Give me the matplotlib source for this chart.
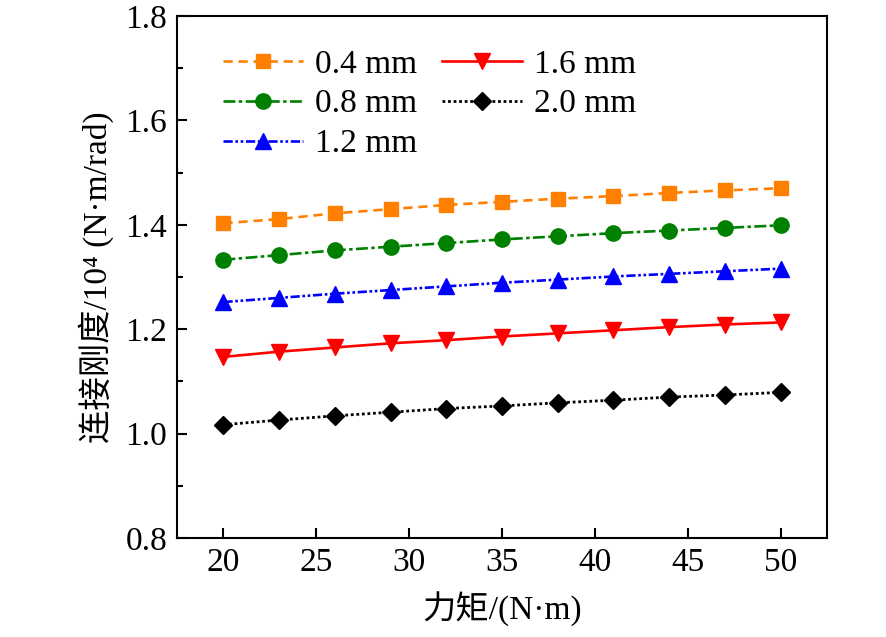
import matplotlib
matplotlib.use("Agg")
import matplotlib.pyplot as plt
from matplotlib.ticker import MultipleLocator

# 力矩 (N·m)
torque = [20, 23, 26, 29, 32, 35, 38, 41, 44, 47, 50]

# 连接刚度 /10^4 (N·m/rad)
k_04 = [1.403, 1.411, 1.422, 1.430, 1.438, 1.444, 1.450, 1.455, 1.461, 1.466, 1.470]
k_08 = [1.333, 1.342, 1.351, 1.358, 1.365, 1.372, 1.378, 1.384, 1.389, 1.394, 1.399]
k_12 = [1.252, 1.260, 1.268, 1.275, 1.282, 1.289, 1.295, 1.301, 1.306, 1.311, 1.316]
k_16 = [1.147, 1.157, 1.165, 1.173, 1.179, 1.186, 1.192, 1.198, 1.204, 1.209, 1.213]
k_20 = [1.017, 1.026, 1.034, 1.041, 1.048, 1.053, 1.059, 1.064, 1.070, 1.074, 1.079]

labels = ["0.4 mm", "0.8 mm", "1.2 mm", "1.6 mm", "2.0 mm"]

plt.rcParams['font.family'] = ['Liberation Serif', 'Noto Sans CJK SC']
plt.rcParams['axes.linewidth'] = 1.5

fig = plt.figure(figsize=(8.86, 6.37), dpi=100)
ax = fig.add_axes([0.1998, 0.1554, 0.7336, 0.8195])

ax.plot(torque, k_04, color='#FF8000', linestyle=(0, (3.5, 2.2)), linewidth=1.9,
        marker='s', markersize=10.5, label=labels[0])
ax.plot(torque, k_08, color='#008000', linestyle=(0, (4.5, 1.3, 1.3, 1.3)), linewidth=1.9,
        marker='o', markersize=11, label=labels[1])
ax.plot(torque, k_12, color='#0000FF', linestyle=(0, (3.5, 1, 1, 1, 1, 1)), linewidth=1.9,
        marker='^', markersize=11.5, label=labels[2])
ax.plot(torque, k_16, color='#FF0000', linestyle='-', linewidth=1.9,
        marker='v', markersize=11.5, label=labels[3])
ax.plot(torque, k_20, color='black', linestyle=(0, (1, 1)), linewidth=2.0,
        marker='D', markersize=9.5, label=labels[4])

ax.set_xlim(17.5, 52.5)
ax.set_ylim(0.8, 1.8)
ax.xaxis.set_major_locator(MultipleLocator(5))
ax.yaxis.set_major_locator(MultipleLocator(0.2))
ax.yaxis.set_minor_locator(MultipleLocator(0.1))
ax.tick_params(axis='both', which='major', direction='in', length=7, width=1.5,
               labelsize=24, pad=7)
ax.tick_params(axis='y', which='minor', direction='in', length=4, width=1.5)
ax.set_yticklabels([f"{v:.1f}" for v in ax.get_yticks()])

ax.set_xlabel("力矩/(N·m)", fontsize=24, labelpad=10)
ax.set_ylabel("连接刚度/10⁴ (N·m/rad)", fontsize=24, labelpad=8)

ax.legend(loc='upper left', ncol=2, fontsize=24, frameon=False,
          bbox_to_anchor=(0.04, 0.975), handlelength=2.4, handletextpad=0.35,
          columnspacing=0.75, labelspacing=0.28, borderaxespad=0.2)

fig.savefig("out.png", dpi=100)
